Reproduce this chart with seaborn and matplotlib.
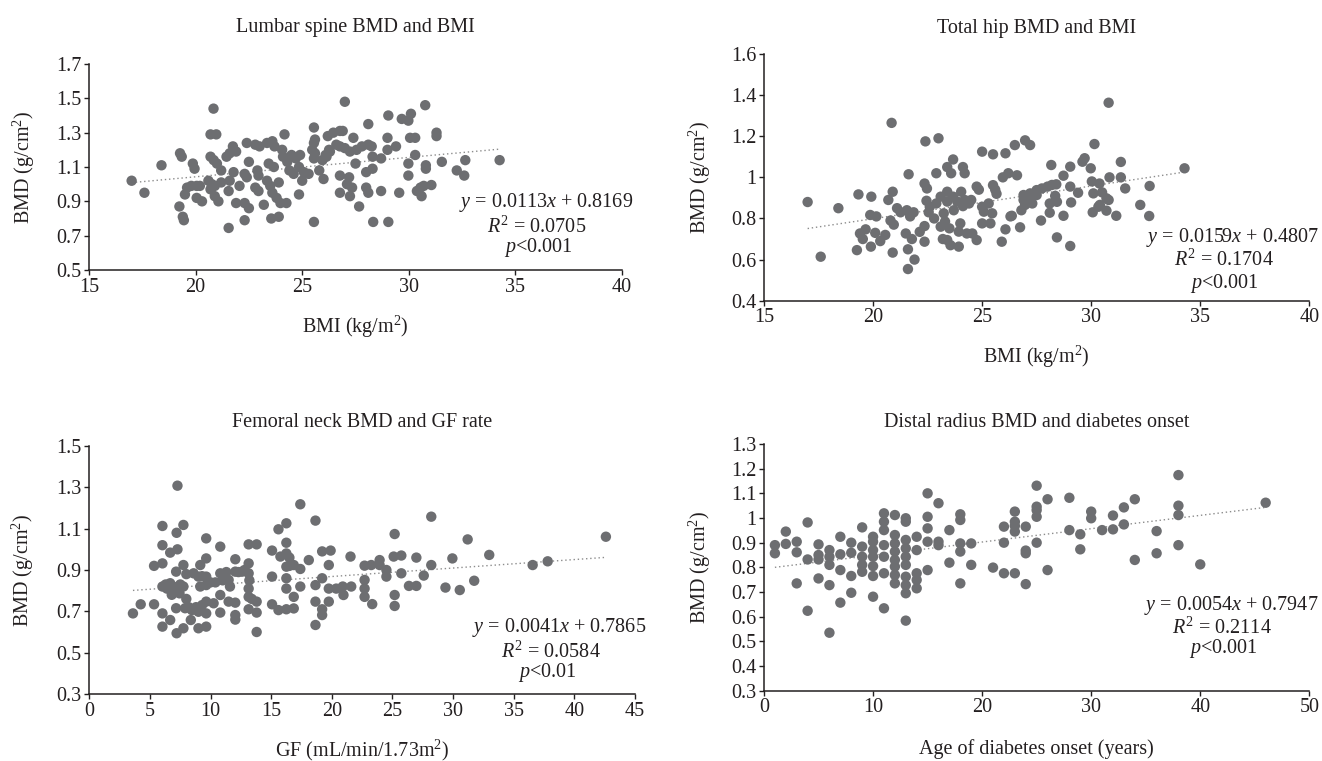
import numpy as np
import pandas as pd
import matplotlib
matplotlib.use("Agg")
import matplotlib.pyplot as plt
import seaborn as sns

# ---------------- data ----------------
# Panel 1: Lumbar spine BMD vs BMI
lumbar_bmi = [17.0, 17.6, 18.4, 19.27, 19.35, 19.24, 19.4, 19.45, 19.87, 19.95, 19.5, 19.6, 19.8, 20.05, 20.2,
              20.05, 20.3, 20.84, 20.7, 20.97, 20.7, 20.85, 21.0, 20.6, 20.76, 20.9, 20.7, 20.9, 21.07, 21.2,
              21.2, 21.55, 21.55, 21.6, 21.45, 21.6, 21.75, 21.9, 21.78, 21.9, 22.06, 22.3, 22.5, 22.3, 22.4,
              22.5, 22.3, 22.4, 22.8, 23.0, 22.9, 22.95, 22.8, 22.95, 23.2, 23.35, 23.6, 23.7, 23.35, 23.5,
              23.43, 23.67, 23.6, 23.8, 23.55, 23.9, 23.9, 23.98, 24.26, 24.17, 24.06, 24.1, 24.3, 24.5, 24.7,
              24.4, 24.6, 24.85, 24.85, 25.0, 24.9, 25.08, 25.3, 25.55, 25.55, 25.6, 25.47, 25.6, 25.55, 25.55,
              25.8, 26.0, 25.95, 26.1, 26.2, 26.26,
              27.0, 26.46, 26.77, 26.9, 27.4, 26.3, 26.6, 26.77, 27.0, 27.24, 27.55, 27.8, 28.1, 28.26, 26.14,
              28.1, 29.04, 29.67, 29.98, 30.1, 30.77, 29.0, 30.06, 30.3, 31.3, 31.3, 29.0, 29.4, 28.3, 28.7,
              30.3, 27.5, 28.0, 28.3, 29.98, 29.98, 30.8, 30.8, 31.55, 32.65, 32.25, 32.6, 34.26, 26.77, 27.2,
              27.34, 27.1, 26.77, 27.24, 27.67, 28.0, 28.1, 28.7, 29.55, 30.38, 30.55, 30.7, 31.06, 30.6, 28.33,
              29.04]
lumbar_bmd = [1.02, 0.95, 1.11, 1.18, 1.16, 0.87, 0.81, 0.79, 1.12, 1.09, 0.94, 0.98, 0.99, 0.99, 0.99,
              0.92, 0.90, 1.44, 1.29, 1.29, 1.16, 1.14, 1.12, 1.02, 1.00, 0.99, 0.97, 0.93, 0.90, 1.01,
              1.08, 0.745, 0.96, 1.02, 1.16, 1.18, 1.22, 1.19, 1.07, 0.89, 0.99, 0.89, 0.86, 0.79, 1.24,
              1.13, 1.06, 1.04, 1.23, 1.22, 1.08, 1.05, 0.98, 0.96, 0.88, 1.24, 1.25, 1.22, 1.02, 0.99,
              1.12, 1.10, 0.95, 0.92, 0.80, 0.81, 1.01, 0.89, 0.89, 1.29, 1.20, 1.16, 1.13, 1.17, 1.15,
              1.08, 1.06, 1.10, 0.94, 1.02, 1.17, 1.07, 1.06, 1.33, 1.24, 1.26, 1.20, 1.18, 1.15, 0.78,
              1.08, 1.03, 1.14, 1.17, 1.28, 1.20,
              1.48, 1.30, 1.31, 1.31, 1.27, 1.19, 1.23, 1.22, 1.21, 1.19, 1.20, 1.22, 1.23, 1.22, 1.16,
              1.35, 1.40, 1.38, 1.37, 1.41, 1.46, 1.27, 1.27, 1.27, 1.30, 1.28, 1.20, 1.22, 1.16, 1.15,
              1.17, 1.12, 1.07, 1.09, 1.12, 1.05, 1.11, 1.09, 1.13, 1.14, 1.08, 1.05, 1.14, 1.05, 1.04,
              0.98, 1.00, 0.95, 0.93, 0.87, 0.98, 0.95, 0.96, 0.95, 0.96, 0.98, 0.99, 0.995, 0.93, 0.78,
              0.78]

# Panel 2: Total hip BMD vs BMI
hip_bmi = [17.0, 17.6, 18.41, 19.33, 19.92, 19.26, 19.9, 19.4, 19.53, 19.66, 19.87, 20.15, 20.1, 20.33, 20.56,
           20.85, 20.9, 20.7, 20.8, 20.95, 21.1, 21.26, 20.9, 21.55, 21.7, 21.86, 21.63, 21.5, 21.78, 21.6,
           21.6, 21.9, 22.14, 22.36, 22.36, 22.4, 23.0, 22.36, 22.47, 22.45, 22.6, 22.55, 22.8, 22.9, 22.9,
           23.1, 23.24, 23.4, 23.1, 23.3, 23.5, 23.2, 23.4, 23.55, 23.93, 23.4, 23.67, 23.58, 23.4, 23.67,
           23.86, 24.04, 23.7, 24.0, 23.93, 24.12, 24.2, 24.2, 24.4, 24.5, 24.12, 24.3, 24.55, 24.75, 24.75,
           24.85, 25.0, 25.5, 26.07, 25.0, 25.08, 25.0, 25.3, 25.46, 25.38, 25.5, 25.66, 25.6, 25.95, 26.2,
           26.07, 25.9, 26.3,
           30.8, 26.5, 26.97, 27.2, 26.6, 30.15, 28.17, 29.04, 29.6, 29.7, 29.98, 31.36, 28.73, 30.03, 30.38,
           30.84, 31.36, 31.56, 32.68, 34.28, 26.9, 27.2, 27.5, 27.74, 28.0, 28.2, 28.4, 26.9, 27.0, 27.2,
           27.5, 26.97, 27.3, 28.35, 28.1, 28.43, 29.04, 29.4, 29.08, 30.1, 30.5, 30.7, 30.8, 30.4, 32.25,
           32.66, 30.07, 30.33, 30.7, 31.15, 26.36, 26.8, 27.7, 28.1, 28.73, 26.74, 28.43, 29.04]
hip_bmd = [0.88, 0.614, 0.85, 0.917, 0.906, 0.646, 0.663, 0.727, 0.70, 0.747, 0.817, 0.81, 0.73, 0.69, 0.72,
           1.265, 0.93, 0.89, 0.79, 0.77, 0.85, 0.83, 0.634, 0.84, 0.81, 0.83, 1.015, 0.727, 0.70, 0.65,
           0.554, 0.60, 0.735, 0.763, 0.687, 1.175, 1.19, 0.97, 0.946, 0.886, 0.857, 0.83, 0.80, 0.873, 1.02,
           0.906, 0.825, 0.882, 0.76, 0.785, 0.752, 0.70, 0.695, 0.67, 0.663, 1.05, 1.087, 1.02, 0.93, 0.906,
           0.882, 0.93, 0.84, 0.776, 0.736, 1.05, 1.02, 0.89, 0.873, 0.89, 0.86, 0.727, 0.727, 0.695, 0.955,
           0.94, 1.125, 1.112, 1.117, 0.857, 0.833, 0.776, 0.873, 0.825, 0.776, 0.962, 0.92, 0.94, 1.00, 1.02,
           0.747, 0.687, 0.81,
           1.363, 1.157, 1.18, 1.157, 1.01, 1.162, 1.06, 1.052, 1.076, 1.093, 1.044, 1.075, 1.008, 0.98, 0.97,
           1.00, 1.00, 0.946, 0.958, 1.044, 0.914, 0.922, 0.938, 0.946, 0.955, 0.963, 0.966, 0.89, 0.898, 0.906,
           0.914, 0.866, 0.873, 0.91, 0.873, 0.881, 0.955, 0.925, 0.878, 0.922, 0.927, 0.898, 0.89, 0.866, 0.866,
           0.812, 0.83, 0.857, 0.838, 0.813, 0.813, 0.84, 0.79, 0.828, 0.813, 0.757, 0.708, 0.666]

# Panel 3: Femoral neck BMD vs GF rate
neck_gf = [3.6, 4.24, 5.34, 5.34, 6.03, 6.03, 6.03, 6.03, 6.4, 6.67, 6.03, 6.03, 6.67, 6.67, 7.27,
           7.2, 7.76, 7.27, 7.16, 7.16, 7.44, 7.16, 7.2, 7.76, 7.76, 7.76, 7.9, 8.46, 8.37, 8.6,
           9.0, 9.15, 9.15, 9.0, 9.0, 9.64, 9.64, 9.64, 9.64, 9.64, 9.64, 9.64, 10.25, 10.8, 10.8,
           10.8, 10.8, 11.49, 11.6, 11.49, 12.04, 12.04, 12.04, 12.04, 12.04, 12.6, 13.14, 13.14, 13.14, 13.14,
           13.14, 13.14, 13.8, 13.8, 13.8, 13.8, 15.07, 15.07, 15.07, 15.6, 15.76, 15.6, 16.25, 16.25, 16.25,
           16.25, 16.25, 16.25, 16.25, 16.86, 16.86, 16.86, 17.4, 17.4, 17.4, 18.1, 18.65, 18.65, 18.65, 18.65,
           19.2, 19.2, 19.2, 19.2, 19.75, 19.75, 19.75, 19.9,
           6.3, 6.9, 7.5, 8.0, 8.2, 8.8, 9.3, 10.0, 10.4, 11.0, 11.3, 12.3, 12.8, 13.2, 13.4,
           16.5, 16.5, 6.8, 8.0, 9.3,
           20.36, 20.9, 21.6, 20.96, 21.54, 22.7, 23.25, 23.94, 23.94, 22.7, 22.7, 22.7, 23.33, 24.5, 24.5,
           25.18, 25.1, 25.73, 25.73, 25.18, 25.18, 26.36, 26.97, 26.97, 27.58, 28.2, 28.2, 29.37, 29.94, 30.55,
           31.2, 31.74, 32.98, 36.56, 37.8, 42.6]
neck_bmd = [0.69, 0.734, 0.92, 0.734, 1.113, 1.02, 0.932, 0.82, 0.81, 0.836, 0.69, 0.626, 0.984, 0.658, 1.308,
            1.08, 1.118, 1.00, 0.892, 0.803, 0.787, 0.715, 0.594, 0.618, 0.924, 0.82, 0.715, 0.706, 0.658, 0.884,
            0.868, 0.924, 0.82, 0.698, 0.618, 0.626, 1.053, 0.956, 0.868, 0.827, 0.747, 0.69, 0.739, 1.013, 0.884,
            0.779, 0.694, 0.852, 0.82, 0.747, 0.742, 0.952, 0.892, 0.682, 0.66, 0.892, 1.024, 0.932, 0.884, 0.81,
            0.77, 0.71, 1.024, 0.747, 0.694, 0.60, 0.994, 0.868, 0.734, 1.097, 0.965, 0.706, 1.126, 1.032, 0.98,
            0.916, 0.86, 0.81, 0.71, 0.924, 0.77, 0.714, 1.218, 0.905, 0.82, 0.948, 1.139, 0.827, 0.634, 0.747,
            0.99, 0.86, 0.71, 0.682, 0.924, 0.81, 0.747, 0.994,
            0.83, 0.82, 0.83, 0.88, 0.72, 0.72, 0.87, 0.84, 0.84, 0.85, 0.89, 0.89, 0.90, 0.85, 0.76,
            0.96, 0.92, 0.78, 0.76, 0.73,
            0.81, 0.82, 0.82, 0.779, 0.965, 0.921, 0.924, 0.948, 0.924, 0.852, 0.81, 0.77, 0.735, 0.90, 0.868,
            1.074, 0.965, 0.97, 0.884, 0.779, 0.726, 0.823, 0.823, 0.96, 0.873, 1.158, 0.924, 0.815, 0.956, 0.803,
            1.048, 0.848, 0.973, 0.924, 0.942, 1.061]

# Panel 4: Distal radius BMD vs age of diabetes onset
radius_age = [1, 1, 2, 2, 3, 3, 3, 4, 4, 4, 5, 5, 5, 5, 6, 6, 6, 6, 6, 7, 7, 7, 7, 8, 8, 8, 8,
              9, 9, 9, 9, 9, 10, 10, 10, 10, 10, 10, 10, 11, 11, 11, 11, 11, 11, 11,
              12, 12, 12, 12, 12, 12, 12, 12, 13, 13, 13, 13, 13, 13, 13, 13, 13, 13,
              14, 14, 14, 14, 14, 15, 15, 15, 15, 15, 16, 16, 16, 17, 17, 18, 18, 18, 18, 18,
              19, 19, 21, 22, 22, 22, 23, 23, 23, 23, 23, 24, 24, 24, 24, 25, 25, 25, 25, 25,
              26, 26, 28, 28, 29, 29, 30, 30, 31, 32, 32, 33, 33, 34, 34, 36, 36, 38, 38, 38, 38, 40, 46]
radius_bmd = [0.89, 0.857, 0.945, 0.895, 0.904, 0.861, 0.735, 0.982, 0.832, 0.624, 0.893, 0.85, 0.832, 0.755,
              0.87, 0.843, 0.81, 0.728, 0.535, 0.924, 0.853, 0.789, 0.657, 0.90, 0.859, 0.765, 0.697,
              0.962, 0.884, 0.843, 0.81, 0.782, 0.924, 0.904, 0.87, 0.843, 0.805, 0.765, 0.681,
              1.019, 0.985, 0.951, 0.89, 0.843, 0.776, 0.634,
              1.012, 0.931, 0.897, 0.864, 0.83, 0.803, 0.769, 0.735,
              0.999, 0.985, 0.911, 0.877, 0.843, 0.81, 0.762, 0.728, 0.695, 0.584,
              0.924, 0.87, 0.776, 0.749, 0.715, 1.10, 1.005, 0.958, 0.904, 0.789, 1.06, 0.904, 0.89,
              0.951, 0.819, 1.015, 0.992, 0.897, 0.864, 0.735, 0.897, 0.81, 0.799, 0.965, 0.90, 0.776,
              1.026, 0.985, 0.968, 0.945, 0.776, 0.965, 0.868, 0.857, 0.732, 1.131, 1.046, 1.032, 1.005, 0.90,
              1.076, 0.789, 1.082, 0.951, 0.934, 0.873, 1.026, 0.999, 0.951, 1.01, 0.954, 1.043, 0.974,
              1.076, 0.83, 0.947, 0.857, 1.174, 1.05, 1.012, 0.89, 0.812, 1.062]

# Regression coefficients printed on the chart
fits = {
    "lumbar": (0.0113, 0.8169, "0.0705", "<0.001"),
    "hip": (0.0159, 0.4807, "0.1704", "<0.001"),
    "neck": (0.0041, 0.7865, "0.0584", "<0.01"),
    "radius": (0.0054, 0.7947, "0.2114", "<0.001"),
}

titles = ["Lumbar spine BMD and BMI", "Total hip BMD and BMI",
          "Femoral neck BMD and GF rate", "Distal radius BMD and diabetes onset"]
xlabels = ["BMI (kg/m$^{2}$)", "BMI (kg/m$^{2}$)",
           "GF (mL/min/1.73m$^{2}$)", "Age of diabetes onset (years)"]
ylabel = "BMD (g/cm$^{2}$)"

xticks = [[15, 20, 25, 30, 35, 40], [15, 20, 25, 30, 35, 40],
          [0, 5, 10, 15, 20, 25, 30, 35, 40, 45], [0, 10, 20, 30, 40, 50]]
yticks = [[0.5, 0.7, 0.9, 1.1, 1.3, 1.5, 1.7], [0.4, 0.6, 0.8, 1.0, 1.2, 1.4, 1.6],
          [0.3, 0.5, 0.7, 0.9, 1.1, 1.3, 1.5],
          [0.3, 0.4, 0.5, 0.6, 0.7, 0.8, 0.9, 1.0, 1.1, 1.2, 1.3]]
yticklabels = [["0.5", "0.7", "0.9", "1.1", "1.3", "1.5", "1.7"],
               ["0.4", "0.6", "0.8", "1", "1.2", "1.4", "1.6"],
               ["0.3", "0.5", "0.7", "0.9", "1.1", "1.3", "1.5"],
               ["0.3", "0.4", "0.5", "0.6", "0.7", "0.8", "0.9", "1", "1.1", "1.2", "1.3"]]

# ---------------- style ----------------
sns.set_style("ticks")
TXT = "#231f20"
DOT = "#6d6e71"
plt.rcParams["font.family"] = ["Liberation Serif", "DejaVu Serif"]
plt.rcParams["mathtext.fontset"] = "custom"
plt.rcParams["mathtext.rm"] = "Liberation Serif"
plt.rcParams["mathtext.it"] = "Liberation Serif:italic"
plt.rcParams["text.color"] = TXT
plt.rcParams["axes.labelcolor"] = TXT
plt.rcParams["xtick.color"] = TXT
plt.rcParams["ytick.color"] = TXT
FS = 14.5

W, H = 1322, 761
fig = plt.figure(figsize=(W / 100, H / 100), dpi=100)

# axes boxes in pixels: left, right, top, bottom
boxes = [(89, 622, 64, 270), (764, 1309.3, 54, 300.7),
         (89.3, 635, 446, 694), (764, 1309.3, 444, 690.7)]
title_base = [31.7, 33, 427, 427]
xlabel_base = [333, 363, 756, 754]
ylabel_x = [24, 700, 22.5, 700]
# annotation lines: (center_x, baseline) pixels for 3 lines
annot = [[(546, 207), (537, 233), (538, 252)],
         [(1232, 242), (1224, 266), (1224, 288)],
         [(559, 632), (551, 658), (547, 677)],
         [(1231, 610), (1222, 634), (1223, 653)]]

datasets = [("lumbar", lumbar_bmi, lumbar_bmd), ("hip", hip_bmi, hip_bmd),
            ("neck", neck_gf, neck_bmd), ("radius", radius_age, radius_bmd)]

for i, (key, xs, ys) in enumerate(datasets):
    l, r, t, b = boxes[i]
    ax = fig.add_axes([l / W, 1 - b / H, (r - l) / W, (b - t) / H])
    df = pd.DataFrame({"x": xs, "y": ys})
    slope, icpt, r2, pval = fits[key]
    xr = np.array([df["x"].min(), df["x"].max()])
    ax.plot(xr, slope * xr + icpt, color="#8c8c8c", lw=1.0, ls=(0, (1, 2)), zorder=1)
    sns.scatterplot(data=df, x="x", y="y", ax=ax, color=DOT, s=56, edgecolor="none",
                    linewidth=0, zorder=2, legend=False)
    ax.set_xlim(xticks[i][0], xticks[i][-1])
    ax.set_ylim(yticks[i][0], yticks[i][-1])
    ax.set_xticks(xticks[i])
    ax.set_xticklabels([str(v) for v in xticks[i]])
    ax.set_yticks(yticks[i])
    ax.set_yticklabels(yticklabels[i])
    ax.tick_params(direction="out", length=3.5, width=1.0, pad=2, labelsize=FS, colors=TXT)
    for s in ["top", "right"]:
        ax.spines[s].set_visible(False)
    for s in ["left", "bottom"]:
        ax.spines[s].set_linewidth(1.1)
        ax.spines[s].set_color("#231f20")
    hpx = b - t
    wpx = r - l
    ax.set_title(titles[i], fontsize=FS, color=TXT, pad=0, y=1 + (t - title_base[i]) / hpx)
    ax.set_xlabel(xlabels[i], fontsize=FS)
    ax.xaxis.set_label_coords(0.5, (b - xlabel_base[i]) / hpx)
    ax.xaxis.label.set_verticalalignment("baseline")
    ax.set_ylabel(ylabel, fontsize=FS)
    ax.yaxis.set_label_coords((ylabel_x[i] - l) / wpx, 0.5)
    ax.yaxis.label.set_verticalalignment("center")
    lines = ["$y$ = %.4f$x$ + %.4f" % (slope, icpt), "$R^2$ = " + r2, "$p$" + pval]
    for (cx, by), txt in zip(annot[i], lines):
        ax.text((cx - l) / wpx, (b - by) / hpx, txt, transform=ax.transAxes,
                ha="center", va="baseline", fontsize=FS, color=TXT, clip_on=False)

fig.savefig("out.png", dpi=100)
